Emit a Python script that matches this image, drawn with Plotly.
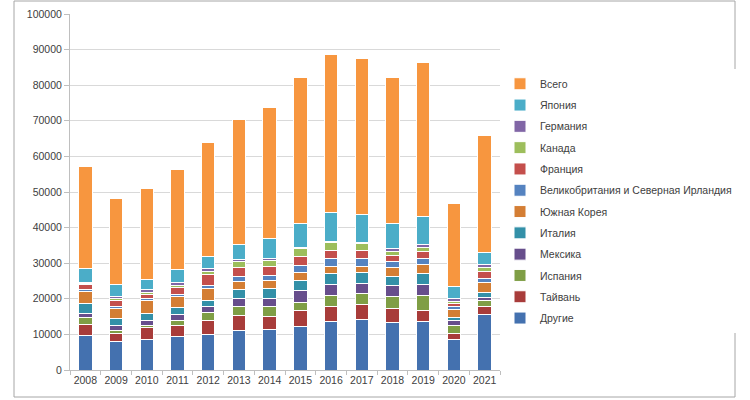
import plotly.graph_objects as go

years = [str(y) for y in range(2008, 2022)]

drugie   = [9700, 7900, 8500, 9300, 10000, 11200, 11500, 12100, 13500, 14300, 13300, 13700, 8500, 15500]
taiwan   = [3200, 2300, 3300, 3100, 3900, 4000, 3600, 4500, 4400, 4100, 4000, 2900, 1700, 2300]
ispania  = [1800, 900, 800, 1500, 2300, 2600, 2700, 2500, 3000, 3100, 3300, 4300, 2300, 1800]
meksika  = [1300, 1500, 1400, 1600, 1700, 2200, 2400, 3300, 3100, 2700, 3000, 3000, 1300, 900]
italia   = [2700, 1900, 2000, 2000, 1700, 2500, 2800, 2800, 3000, 3100, 2800, 3200, 1000, 1200]
korea    = [3300, 2800, 3400, 3200, 3200, 2500, 2100, 2300, 2100, 1900, 2400, 2600, 2300, 3000]
uk       = [600, 600, 600, 500, 1000, 1200, 1400, 1900, 2100, 2100, 1700, 1700, 600, 1000]
france   = [1300, 1700, 1300, 2100, 2900, 2700, 2600, 2600, 2400, 2400, 1800, 2000, 900, 2100]
canada   = [400, 500, 400, 500, 1100, 1500, 1600, 2100, 2100, 1700, 1100, 1100, 600, 900]
germany  = [400, 600, 800, 800, 600, 700, 600, 400, 400, 400, 600, 700, 800, 800]
japan    = [3900, 3400, 3000, 3600, 3500, 4150, 5600, 6650, 8150, 7900, 7100, 8050, 3400, 3500]

series = [
    ("Другие", drugie, "#4471AF"),
    ("Тайвань", taiwan, "#A83C3A"),
    ("Испания", ispania, "#7F9E45"),
    ("Мексика", meksika, "#674E8C"),
    ("Италия", italia, "#3390A8"),
    ("Южная Корея", korea, "#D47E34"),
    ("Великобритания и Северная Ирландия", uk, "#5583C0"),
    ("Франция", france, "#C44F4C"),
    ("Канада", canada, "#9DBE5C"),
    ("Германия", germany, "#8166A6"),
    ("Япония", japan, "#4BADC8"),
]
total = [sum(s[1][i] for s in series) for i in range(len(years))]
series.append(("Всего", total, "#F7963F"))

n = len(series)
fig = go.Figure()
for i, (name, vals, col) in enumerate(series):
    fig.add_trace(go.Bar(
        x=years, y=vals, name=name, legendgroup=f"g{i}", legendrank=n - i,
        marker=dict(color=col, line=dict(color="white", width=1)),
    ))

fig.update_layout(
    barmode="stack",
    bargap=0.56,
    width=750, height=400,
    margin=dict(l=70, r=250, t=14, b=30, autoexpand=False),
    paper_bgcolor="white", plot_bgcolor="white",
    font=dict(family="Liberation Sans, Arial, sans-serif", size=10, color="#404040"),
    legend=dict(
        traceorder="grouped",
        x=1.0, xanchor="left", y=0.474, yanchor="middle",
        font=dict(size=10.5, color="#404040"),
        tracegroupgap=2.3,
        itemwidth=30,
    ),
    showlegend=True,
    xaxis=dict(
        type="category", showgrid=False, showline=True, linecolor="#BFBFBF",
        ticks="outside", tickson="boundaries", ticklen=4, tickcolor="#BFBFBF",
        tickangle=0, tickfont=dict(size=10.5, color="#404040"),
    ),
    yaxis=dict(
        range=[0, 100000], dtick=10000, showgrid=True, gridcolor="#D9D9D9",
        showline=True, linecolor="#BFBFBF", ticks="outside", ticklen=5,
        tickcolor="#BFBFBF", tickformat="d", zeroline=False,
        tickfont=dict(size=10.5, color="#404040"),
    ),
    shapes=[dict(
        type="rect", xref="paper", yref="paper",
        x0=(14 - 70) / 430, x1=(735 - 70) / 430,
        y0=(370 - 397) / 356, y1=(370 - 1) / 356,
        line=dict(color="#A6A6A6", width=1), fillcolor="rgba(0,0,0,0)",
        layer="below",
    )],
)

fig.write_html("out.html")
